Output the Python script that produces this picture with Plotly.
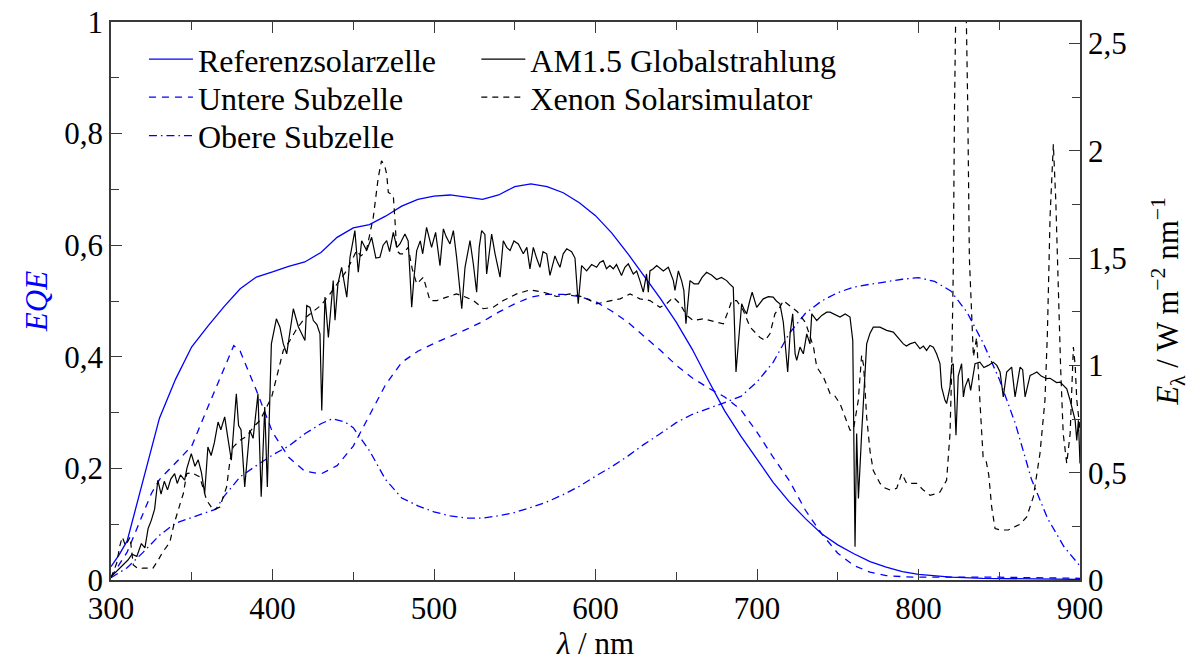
import plotly.graph_objects as go

# --- EQE curves (left axis) ---
ref_wl = [300, 305, 310, 320, 330, 340, 350, 360, 370, 380, 390, 400, 410, 420, 430, 440, 450,
          460, 470, 480, 490, 500, 510, 520, 530, 540, 550, 560, 570, 580, 590, 600, 610, 620,
          630, 640, 650, 660, 670, 680, 690, 700, 710, 720, 730, 740, 750, 760, 770, 780, 790,
          800, 820, 840, 860, 880, 900]
ref_eqe = [0.024, 0.045, 0.07, 0.18, 0.29, 0.36, 0.418, 0.455, 0.49, 0.522, 0.543, 0.552, 0.562,
           0.570, 0.587, 0.614, 0.631, 0.637, 0.652, 0.670, 0.682, 0.688, 0.690, 0.686, 0.682,
           0.690, 0.705, 0.710, 0.705, 0.694, 0.676, 0.653, 0.622, 0.585, 0.545, 0.505, 0.462,
           0.413, 0.357, 0.303, 0.258, 0.216, 0.175, 0.14, 0.11, 0.083, 0.063, 0.047, 0.033,
           0.023, 0.015, 0.01, 0.005, 0.003, 0.002, 0.001, 0.001]

bottom_wl = [300, 310, 320, 325, 330, 340, 350, 360, 370, 376, 380, 390, 400, 410, 420, 430, 440,
             450, 460, 470, 480, 490, 500, 510, 520, 530, 540, 550, 560, 570, 580, 590, 600, 610,
             620, 630, 640, 650, 660, 670, 680, 690, 700, 710, 720, 730, 740, 750, 760, 770, 780,
             790, 800, 850, 880, 900]
bottom_eqe = [0.005, 0.05, 0.12, 0.155, 0.18, 0.21, 0.24, 0.31, 0.38, 0.42, 0.41, 0.34, 0.265,
              0.22, 0.195, 0.19, 0.205, 0.24, 0.295, 0.35, 0.39, 0.41, 0.424, 0.436, 0.449, 0.463,
              0.48, 0.495, 0.507, 0.512, 0.512, 0.508, 0.499, 0.482, 0.462, 0.437, 0.412, 0.385,
              0.362, 0.344, 0.328, 0.305, 0.265, 0.22, 0.178, 0.125, 0.083, 0.048, 0.026, 0.014,
              0.008, 0.006, 0.005, 0.005, 0.004, 0.003]

top_wl = [300, 310, 320, 330, 340, 350, 360, 365, 370, 380, 390, 400, 410, 420, 430, 437, 445,
          450, 460, 470, 480, 490, 500, 510, 520, 530, 540, 550, 560, 570, 580, 590, 600, 610,
          620, 630, 640, 650, 660, 670, 680, 690, 700, 710, 720, 730, 740, 750, 760, 770, 780,
          790, 800, 810, 820, 830, 840, 850, 860, 870, 880, 890, 900]
top_eqe = [0.004, 0.022, 0.05, 0.08, 0.102, 0.112, 0.122, 0.127, 0.15, 0.185, 0.205, 0.224, 0.24,
           0.262, 0.28, 0.289, 0.283, 0.273, 0.232, 0.18, 0.147, 0.133, 0.122, 0.115, 0.111,
           0.111, 0.115, 0.121, 0.13, 0.14, 0.153, 0.168, 0.186, 0.203, 0.222, 0.243, 0.262,
           0.282, 0.297, 0.307, 0.318, 0.329, 0.355, 0.39, 0.442, 0.478, 0.5, 0.515, 0.525,
           0.53, 0.535, 0.539, 0.542, 0.535, 0.518, 0.48, 0.425, 0.36, 0.28, 0.18, 0.11, 0.06,
           0.025]

# --- spectral irradiance (right axis) ---
am15_wl = [300, 305, 310.5, 313, 316, 318.8, 321, 323, 325, 327, 329, 331, 333, 335, 337, 339.4,
           341, 343, 345.6, 347, 349.7, 352, 354, 356, 358, 360, 362, 364, 366.3, 368, 370.4,
           372, 374.5, 377.6, 379, 380.5, 382.8, 385.9, 388, 391, 393, 395.2, 396.8, 399.3,
           402.4, 404.6, 406.7, 408.8, 412.9, 416, 420.1, 421.2, 423.2, 425.3, 427.5, 429.4,
           430.5, 432.5, 434.6, 437.6, 438.7, 440.5, 442.8, 446, 448, 451, 453.1, 455.2, 458.3,
           461.4, 464, 466.5, 468.5, 470.7, 472.5, 474.8, 477, 478.9, 482, 484, 486.2, 487.5,
           489.3, 491.5, 493, 495.4, 498.5, 501, 503.7, 505.8, 507.5, 509.9, 512, 514, 517.2,
           519.2, 522.3, 524.4, 526.4, 528, 529.5, 531.5, 532.6, 535.7, 537.8, 540.9, 542.9,
           545, 547.1, 549.5, 552.2, 555.3, 557.5, 559.4, 561.5, 563.5, 565.6, 567.5, 569.8,
           571.8, 574.9, 576.5, 578, 580, 582.2, 585.2, 587.3, 589.3, 591.4, 594.5, 597.6,
           600.7, 602.7, 604.8, 606.8, 608.9, 611, 613, 616.1, 618.2, 620.3, 623.4, 625.5,
           627.5, 629.6, 631.6, 632.7, 633.7, 635.8, 637.9, 640, 642, 645.1, 648.2, 649.2,
           651.3, 653.3, 654.7, 656, 657.3, 658.5, 661, 663.7, 666, 668.8, 672, 675, 678, 681.2,
           683, 685.3, 687, 688.4, 690.5, 692, 693.6, 695.5, 697, 699.8, 701.8, 703.9, 707, 710,
           712, 714.2, 716.3, 719, 720.5, 722.1, 723.6, 724.6, 726.6, 728.7, 730.8, 732.8,
           733.9, 737, 740.1, 743.2, 745.2, 747.4, 751.4, 754.6, 757.6, 759.3, 760.7, 761.7,
           762.8, 764.8, 767.9, 770, 772, 776.1, 780.3, 784.4, 787.5, 790.6, 792.5, 794.7,
           797.8, 800.9, 803, 805, 807.1, 809.2, 811.2, 813.3, 814.3, 816.4, 817.4, 818.5,
           819.5, 820.5, 821.5, 823.2, 824.6, 826.7, 827.8, 828.8, 830.9, 832.3, 835, 838,
           840.5, 843.2, 846.3, 848.5, 850.5, 852.5, 854.6, 857.7, 859.8, 862.9, 864.5, 866,
           869.1, 871, 873.3, 876, 879.4, 881.5, 883.5, 885.5, 887.7, 889.5, 891.8, 893.9,
           895.5, 897, 898, 899, 900]
am15_e = [0.015, 0.05, 0.093, 0.12, 0.11, 0.17, 0.15, 0.24, 0.279, 0.33, 0.465, 0.40, 0.46, 0.42,
          0.47, 0.496, 0.45, 0.49, 0.465, 0.52, 0.589, 0.53, 0.56, 0.5, 0.403, 0.62, 0.58, 0.64,
          0.736, 0.70, 0.76, 0.68, 0.558, 0.868, 0.72, 0.70, 0.434, 0.698, 0.66, 0.868, 0.388,
          0.806, 0.434, 1.10, 1.217, 1.178, 1.10, 1.054, 1.264, 1.18, 1.116, 1.279, 1.27, 1.209,
          1.19, 1.147, 0.79, 1.318, 1.13, 1.395, 1.21, 1.38, 1.457, 1.318, 1.504, 1.628, 1.434,
          1.581, 1.535, 1.597, 1.50, 1.504, 1.56, 1.581, 1.53, 1.62, 1.55, 1.566, 1.612, 1.58,
          1.271, 1.40, 1.535, 1.58, 1.52, 1.643, 1.55, 1.62, 1.465, 1.636, 1.60, 1.566, 1.628,
          1.504, 1.264, 1.457, 1.581, 1.47, 1.341, 1.55, 1.628, 1.61, 1.426, 1.612, 1.52, 1.411,
          1.581, 1.55, 1.535, 1.58, 1.566, 1.52, 1.55, 1.45, 1.55, 1.5, 1.457, 1.53, 1.52,
          1.419, 1.51, 1.48, 1.457, 1.52, 1.543, 1.53, 1.50, 1.287, 1.465, 1.44, 1.47, 1.457,
          1.48, 1.488, 1.45, 1.465, 1.45, 1.47, 1.419, 1.457, 1.473, 1.426, 1.44, 1.395, 1.341,
          1.426, 1.341, 1.44, 1.45, 1.465, 1.45, 1.44, 1.457, 1.395, 1.349, 1.44, 1.395, 1.35,
          1.194, 1.30, 1.395, 1.38, 1.38, 1.41, 1.434, 1.42, 1.40, 1.41, 1.395, 1.38, 1.364,
          0.969, 1.116, 1.287, 1.26, 1.24, 1.30, 1.341, 1.27, 1.29, 1.31, 1.32, 1.318, 1.30,
          1.287, 1.201, 0.969, 1.147, 1.24, 1.054, 1.023, 1.085, 1.054, 1.147, 1.1, 1.24, 1.209,
          1.233, 1.248, 1.248, 1.24, 1.225, 1.24, 1.225, 1.116, 0.155, 0.682, 0.38, 0.682, 1.10,
          1.15, 1.178, 1.178, 1.163, 1.155, 1.13, 1.10, 1.09, 1.10, 1.108, 1.078, 1.09, 1.07,
          1.093, 1.085, 1.054, 1.008, 0.899, 0.837, 0.822, 0.868, 0.899, 1.0, 1.008, 0.674, 0.95,
          1.008, 0.853, 0.899, 0.94, 0.884, 1.008, 1.015, 0.99, 1.0, 1.015, 1.0, 0.969, 0.853,
          0.969, 0.992, 0.853, 0.992, 0.98, 0.853, 0.953, 0.96, 0.969, 0.95, 0.938, 0.94, 0.93,
          0.92, 0.922, 0.91, 0.891, 0.837, 0.79, 0.744, 0.65, 0.744, 0.543]

xenon_wl = [300, 303.5, 305.5, 307, 309, 311.8, 313.8, 316.5, 320, 326, 329, 332, 336.4, 339,
            342.6, 344.8, 346.9, 350, 355, 359.2, 363.3, 367.4, 371.6, 373.7, 375.7, 379.9, 384,
            388.2, 392.3, 396.4, 399.5, 402.6, 406.7, 410.8, 415, 420, 425, 430, 435.6, 441,
            446, 452.1, 454.7, 458, 462.4, 465.5, 467.5, 469.5, 470.7, 471.7, 474.8, 475.8,
            476.9, 478.9, 481, 484, 486.5, 489.3, 493.4, 497.5, 501.7, 507.9, 514, 519, 524.4,
            530.5, 536.7, 542.9, 551.2, 559.4, 567.7, 575.9, 584.2, 588.3, 592.5, 600.7, 609,
            615.2, 621.4, 627.5, 633.7, 639.9, 644, 648.2, 652.3, 656.4, 660.6, 666.8, 675,
            679.2, 682.3, 684.4, 687.4, 691.5, 695.7, 701.9, 705, 708, 711.1, 714.2, 716.3, 720,
            725, 730, 732.8, 735, 737, 741.1, 745.3, 748, 751.4, 754.6, 757.6, 759.7, 762.7,
            764.8, 766, 767.9, 770, 772, 776.2, 779, 782.4, 786.5, 789.6, 792.7, 798.9, 803,
            807.1, 810, 813.3, 817.4, 819.5, 820.5, 821.5, 822.3, 823.5, 826, 829, 830.5, 831.5,
            834, 836, 838, 840, 842, 843.5, 845.3, 847.4, 850.5, 855.6, 862.9, 867, 871.1,
            875.2, 878.3, 879.8, 881.5, 883.5, 885, 886.6, 888, 889.6, 891.8, 893.9, 894.8,
            895.9, 897, 898, 900]
xenon_e = [0.01, 0.078, 0.16, 0.2, 0.16, 0.2, 0.07, 0.054, 0.055, 0.055, 0.09, 0.13, 0.175, 0.26,
           0.35, 0.403, 0.496, 0.50, 0.48, 0.372, 0.326, 0.34, 0.434, 0.558, 0.62, 0.651, 0.67,
           0.713, 0.744, 0.806, 0.853, 0.946, 1.07, 1.116, 1.17, 1.22, 1.25, 1.28, 1.333, 1.39,
           1.442, 1.535, 1.51, 1.53, 1.69, 1.876, 1.953, 1.93, 1.891, 1.806, 1.791, 1.68, 1.535,
           1.52, 1.52, 1.55, 1.45, 1.38, 1.411, 1.302, 1.302, 1.318, 1.333, 1.32, 1.302, 1.264,
           1.271, 1.302, 1.333, 1.352, 1.341, 1.321, 1.333, 1.326, 1.318, 1.287, 1.302, 1.31,
           1.333, 1.31, 1.302, 1.271, 1.287, 1.318, 1.287, 1.233, 1.209, 1.217, 1.201, 1.194,
           1.256, 1.302, 1.302, 1.256, 1.178, 1.13, 1.116, 1.147, 1.24, 1.271, 1.302, 1.28,
           1.25, 1.2, 1.13, 1.085, 0.992, 0.946, 0.868, 0.86, 0.822, 0.76, 0.698, 0.70, 0.837,
           1.047, 1.0, 0.76, 0.6, 0.51, 0.45, 0.43, 0.419, 0.427, 0.496, 0.45, 0.45, 0.419,
           0.395, 0.40, 0.41, 0.465, 0.682, 0.96, 1.427, 2.2, 2.9, 3.2, 2.9, 2.2, 1.5, 1.04,
           1.13, 0.837, 0.574, 0.55, 0.49, 0.341, 0.24, 0.233, 0.233, 0.26, 0.294, 0.387, 0.589,
           0.837, 1.147, 1.7, 2.03, 1.77, 1.30, 0.99, 0.682, 0.543, 0.682, 0.915, 1.085, 1.0,
           0.84, 0.70]

FONT = "Liberation Serif"
BLUE = "#0000ff"
AXIS = "#3a3a3a"
FS = 31
LEG_FS = 32

fig = go.Figure()

fig.add_trace(go.Scatter(x=ref_wl, y=ref_eqe, mode="lines", name="Referenzsolarzelle",
                         line=dict(color=BLUE, width=1.3), legend="legend"))
fig.add_trace(go.Scatter(x=bottom_wl, y=bottom_eqe, mode="lines", name="Untere Subzelle",
                         line=dict(color=BLUE, width=1.3, dash="7px,6px"), legend="legend2"))
fig.add_trace(go.Scatter(x=top_wl, y=top_eqe, mode="lines", name="Obere Subzelle",
                         line=dict(color=BLUE, width=1.3, dash="8px,4px,1.5px,4px"),
                         legend="legend3"))
fig.add_trace(go.Scatter(x=xenon_wl, y=xenon_e, mode="lines", name="Xenon Solarsimulator",
                         yaxis="y2", line=dict(color="black", width=1.2, dash="6px,5px"),
                         legend="legend5"))
fig.add_trace(go.Scatter(x=am15_wl, y=am15_e, mode="lines", name="AM1.5 Globalstrahlung",
                         yaxis="y2", line=dict(color="black", width=1.2), legend="legend4"))

tickfont = dict(family=FONT, size=FS, color="black")
axis_common = dict(showgrid=False, zeroline=False, showline=True, linecolor=AXIS, linewidth=1.6,
                   ticks="inside", ticklen=11, tickwidth=1.3, tickcolor=AXIS, tickfont=tickfont,
                   automargin=False)

fig.update_layout(
    width=1190, height=663,
    margin=dict(l=111, r=110, t=22, b=83),
    paper_bgcolor="white", plot_bgcolor="white",
    separators=",.",
    showlegend=True,
    font=dict(family=FONT, size=FS, color="black"),
    xaxis=dict(range=[300, 900], tick0=300, dtick=100, mirror="ticks",
               minor=dict(dtick=50, ticklen=8, tickcolor=AXIS, ticks="inside"),
               title=dict(text="<i>λ</i> / nm", font=dict(family=FONT, size=FS), standoff=5),
               **axis_common),
    yaxis=dict(range=[0, 1], tick0=0, dtick=0.2,
               minor=dict(dtick=0.1, ticklen=8, tickcolor=AXIS, ticks="inside"),
               title=dict(text="<i>EQE</i>", font=dict(family=FONT, size=FS, color=BLUE),
                          standoff=7),
               **axis_common),
    yaxis2=dict(range=[0, 2.6], tick0=0, dtick=0.5, overlaying="y", side="right",
                minor=dict(dtick=0.25, ticklen=8, tickcolor=AXIS, ticks="inside"),
                title=dict(text="<i>E</i><sub>λ</sub> / W m<sup>−2</sup> nm<sup>−1</sup>",
                           font=dict(family=FONT, size=FS), standoff=48),
                **axis_common),
)

legend_common = dict(bgcolor="rgba(0,0,0,0)", borderwidth=0, itemwidth=44,
                     font=dict(family=FONT, size=LEG_FS, color="black"),
                     xanchor="left", yanchor="middle", itemclick=False, itemdoubleclick=False)
rows = [0.933, 0.865, 0.796]
col1, col2 = 0.034, 0.377
fig.update_layout(
    legend=dict(x=col1, y=rows[0], **legend_common),
    legend2=dict(x=col1, y=rows[1], **legend_common),
    legend3=dict(x=col1, y=rows[2], **legend_common),
    legend4=dict(x=col2, y=rows[0], **legend_common),
    legend5=dict(x=col2, y=rows[1], **legend_common),
)

fig.write_html("out.html")
